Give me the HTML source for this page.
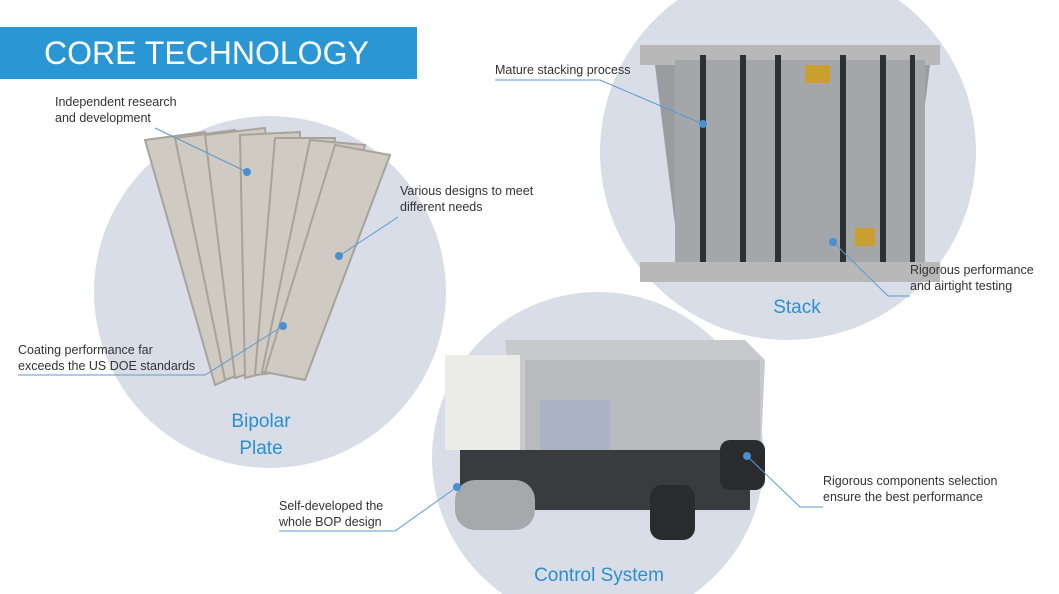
<!DOCTYPE html>
<html><head><meta charset="utf-8"><style>
html,body{margin:0;width:1059px;height:594px;overflow:hidden}
body{background:#fff;font-family:"Liberation Sans",sans-serif;position:relative}
.t{position:absolute;font-size:12.5px;color:#333;line-height:16px}
.b{position:absolute;font-size:19px;color:#2b8fd0;text-align:center;line-height:27px}
</style></head><body>
<svg width="1059" height="594" style="position:absolute;left:0;top:0;overflow:hidden">
<circle cx="270" cy="292" r="176" fill="#d9dde8"/>
<circle cx="788" cy="152" r="188" fill="#d9dde8"/>
<circle cx="598" cy="458" r="166" fill="#d9dde8"/>
<g fill="#cfcac2" stroke="#a8a39a" stroke-width="2">
<polygon points="145,140 205,132 270,360 215,385"/>
<polygon points="175,138 235,130 280,360 225,380"/>
<polygon points="205,135 265,128 290,360 235,378"/>
<polygon points="240,135 300,132 295,365 245,378"/>
<polygon points="275,138 335,138 300,370 255,375"/>
<polygon points="310,140 365,145 300,375 262,372"/>
<polygon points="335,145 390,155 305,380 265,372"/>
</g>
<rect x="640" y="45" width="300" height="20" fill="#b8b8b8"/>
<polygon points="655,65 930,65 905,265 680,265" fill="#9a9ca0"/>
<rect x="675" y="60" width="250" height="215" fill="#a4a6aa"/>
<g fill="#2e3034">
<rect x="700" y="55" width="6" height="220"/><rect x="740" y="55" width="6" height="220"/><rect x="775" y="55" width="6" height="220"/><rect x="840" y="55" width="6" height="220"/><rect x="880" y="55" width="6" height="220"/><rect x="910" y="55" width="5" height="220"/>
</g>
<rect x="640" y="262" width="300" height="20" fill="#b8b8b8"/>
<rect x="805" y="65" width="25" height="18" fill="#c9a030"/>
<rect x="855" y="228" width="20" height="18" fill="#c9a030"/>
<polygon points="505,340 745,340 765,360 760,470 520,470" fill="#c8c9cc"/>
<rect x="525" y="360" width="235" height="110" fill="#b8babd"/>
<rect x="445" y="355" width="75" height="95" fill="#ebebe8"/>
<rect x="540" y="400" width="70" height="70" fill="#a9b3c5"/>
<rect x="460" y="450" width="290" height="60" fill="#3a3b3e"/>
<rect x="455" y="480" width="80" height="50" rx="20" fill="#a7a8ab"/>
<rect x="650" y="485" width="45" height="55" rx="12" fill="#2a2b2d"/>
<rect x="720" y="440" width="45" height="50" rx="10" fill="#2a2b2d"/>
<g stroke="#5a9bd5" stroke-width="1" fill="none">
<polyline points="155,128 247,172"/>
<polyline points="398,217 339,256"/>
<polyline points="18,375 205,375 283,326"/>
<polyline points="495,80 600,80 703,124"/>
<polyline points="910,296 888,296 833,242"/>
<polyline points="823,507 800,507 747,456"/>
<polyline points="279,531 395,531 457,487"/>
</g>
<g fill="#4a8fd0">
<circle cx="247" cy="172" r="4"/><circle cx="339" cy="256" r="4"/><circle cx="283" cy="326" r="4"/><circle cx="703" cy="124" r="4"/><circle cx="833" cy="242" r="4"/><circle cx="747" cy="456" r="4"/><circle cx="457" cy="487" r="4"/>
</g>
</svg>
<div style="position:absolute;left:0;top:27px;width:417px;height:52px;background:#2a96d4;color:#fff;font-size:32px;line-height:52px;padding-left:44px;box-sizing:border-box">CORE TECHNOLOGY</div>
<div class="t" style="left:55px;top:94px">Independent research<br>and development</div>
<div class="t" style="left:400px;top:183px">Various designs to meet<br>different needs</div>
<div class="t" style="left:18px;top:342px">Coating performance far<br>exceeds the US DOE standards</div>
<div class="t" style="left:495px;top:62px">Mature stacking process</div>
<div class="t" style="left:910px;top:262px">Rigorous performance<br>and airtight testing</div>
<div class="t" style="left:823px;top:473px">Rigorous components selection<br>ensure the best performance</div>
<div class="t" style="left:279px;top:498px">Self-developed the<br>whole BOP design</div>
<div class="b" style="left:211px;top:408px;width:100px">Bipolar<br>Plate</div>
<div class="b" style="left:747px;top:294px;width:100px">Stack</div>
<div class="b" style="left:509px;top:562px;width:180px;line-height:27px;height:27px">Control System</div>
</body></html>
